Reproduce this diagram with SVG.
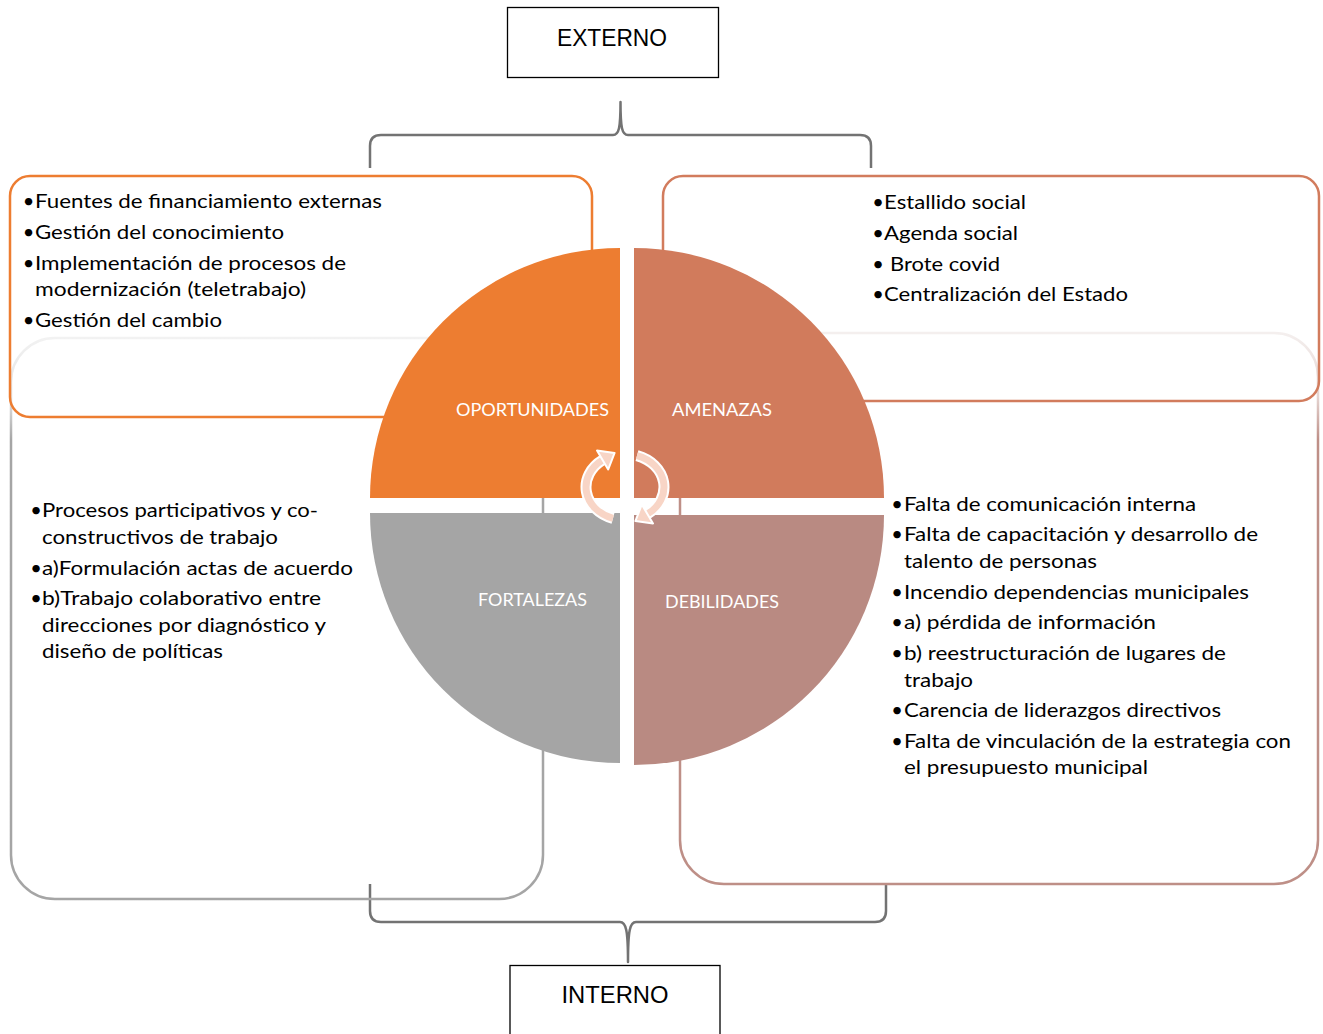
<svg xmlns="http://www.w3.org/2000/svg" width="1323" height="1034" viewBox="0 0 1323 1034">
  <style>
    .box { fill: none; stroke-width: 2.5; }
    .lbl { font-family: "Lato", "Liberation Sans", sans-serif; font-size: 17px; fill: #FFFFFF; text-anchor: middle; }
    .txt { font-family: "Lato", "Liberation Sans", sans-serif; font-size: 20px; fill: #000000; }
    .bul { font-family: "Lato", "Liberation Sans", sans-serif; font-size: 20px; fill: #000000; text-anchor: middle; }
    .ttl { font-family: "Liberation Sans", "Lato", sans-serif; font-size: 23px; fill: #000000; text-anchor: middle; }
    .frame { fill: #FFFFFF; stroke: #000000; stroke-width: 1.3; }
    .brace { fill: none; stroke: #737373; stroke-width: 2.5; stroke-linejoin: round; }
    .arc-under { fill: none; stroke: #FFFFFF; stroke-width: 11; }
    .arc { fill: none; stroke: #F8D5C6; stroke-width: 7; }
    .head { fill: #F8D5C6; stroke: #FFFFFF; stroke-width: 2; stroke-linejoin: round; }
  </style>
  <defs>
    <linearGradient id="gGray" gradientUnits="userSpaceOnUse" x1="0" y1="338" x2="0" y2="440">
      <stop offset="0" stop-color="#F2F2F2"/>
      <stop offset="0.6" stop-color="#E2E2E2"/>
      <stop offset="1" stop-color="#A5A5A5"/>
    </linearGradient>
    <linearGradient id="gBrown" gradientUnits="userSpaceOnUse" x1="0" y1="333" x2="0" y2="440">
      <stop offset="0" stop-color="#F4EFEE"/>
      <stop offset="0.6" stop-color="#E4D4D1"/>
      <stop offset="1" stop-color="#BE8F87"/>
    </linearGradient>
  </defs>
  <rect x="0" y="0" width="1323" height="1034" fill="#FFFFFF"/>

  <g id="connectors">
    <path class="brace" d="M 370 168 L 370 146 Q 370 135 381 135 L 613 135 C 619 135 620.5 128 620.5 102 C 620.5 128 622 135 628 135 L 860 135 Q 871 135 871 146 L 871 168"/>
    <path class="brace" d="M 370 884 L 370 911 Q 370 922 381 922 L 620 922 C 626 922 628 930 628 962 C 628 930 630 922 636 922 L 875 922 Q 886 922 886 911 L 886 884"/>
  </g>

  <g id="box-fortalezas">
    <rect class="box" x="11" y="338" width="532" height="561" rx="44" ry="44" stroke="url(#gGray)"/>
  </g>
  <g id="box-debilidades">
    <rect class="box" x="680" y="333" width="638" height="551" rx="44" ry="44" stroke="url(#gBrown)"/>
  </g>
  <g id="box-oportunidades">
    <rect class="box" x="10" y="176" width="582" height="241" rx="20" ry="20" stroke="#ED7D31"/>
  </g>
  <g id="box-amenazas">
    <rect class="box" x="663" y="176" width="656" height="225" rx="20" ry="20" stroke="#D27C5D"/>
  </g>

  <g id="q-oportunidades">
    <path d="M 620 498 L 370 498 A 250 250 0 0 1 620 248 Z" fill="#ED7D31"/>
    <text class="lbl" x="532.5" y="416" textLength="153" lengthAdjust="spacingAndGlyphs">OPORTUNIDADES</text>
  </g>
  <g id="q-amenazas">
    <path d="M 634 498 L 634 248 A 250 250 0 0 1 884 498 Z" fill="#D17B5C"/>
    <text class="lbl" x="722" y="416" textLength="100" lengthAdjust="spacingAndGlyphs">AMENAZAS</text>
  </g>
  <g id="q-fortalezas">
    <path d="M 620 513 L 620 763 A 250 250 0 0 1 370 513 Z" fill="#A5A5A5"/>
    <text class="lbl" x="532.5" y="606" textLength="109" lengthAdjust="spacingAndGlyphs">FORTALEZAS</text>
  </g>
  <g id="q-debilidades">
    <path d="M 634 515 L 884 515 A 250 250 0 0 1 634 765 Z" fill="#B98A82"/>
    <text class="lbl" x="722" y="608" textLength="114" lengthAdjust="spacingAndGlyphs">DEBILIDADES</text>
  </g>

  <g id="cycle-arrows">
    <path class="arc-under" d="M 613 518.4 A 39 33 0 0 1 602.6 460"/>
    <path class="arc" d="M 613 518.4 A 39 33 0 0 1 602.6 460"/>
    <polygon class="head" points="614.6,452.9 608.2,469.5 597,450.5"/>
    <path class="arc-under" d="M 637 455.6 A 39 33 0 0 1 647.4 514"/>
    <path class="arc" d="M 637 455.6 A 39 33 0 0 1 647.4 514"/>
    <polygon class="head" points="635.4,521.1 641.8,504.5 653,523.5"/>
  </g>

  <g id="text-oportunidades">
    <text class="bul" x="28.5" y="208">•</text>
    <text class="txt" x="35" y="208" textLength="347" lengthAdjust="spacingAndGlyphs">Fuentes de financiamiento externas</text>
    <text class="bul" x="28.5" y="239">•</text>
    <text class="txt" x="35" y="239" textLength="249" lengthAdjust="spacingAndGlyphs">Gestión del conocimiento</text>
    <text class="bul" x="28.5" y="270">•</text>
    <text class="txt" x="35" y="270" textLength="311" lengthAdjust="spacingAndGlyphs">Implementación de procesos de</text>
    <text class="txt" x="35" y="296" textLength="271" lengthAdjust="spacingAndGlyphs">modernización (teletrabajo)</text>
    <text class="bul" x="28.5" y="327">•</text>
    <text class="txt" x="35" y="327" textLength="187" lengthAdjust="spacingAndGlyphs">Gestión del cambio</text>
  </g>

  <g id="text-amenazas">
    <text class="bul" x="878" y="209">•</text>
    <text class="txt" x="884" y="209" textLength="142" lengthAdjust="spacingAndGlyphs">Estallido social</text>
    <text class="bul" x="878" y="240">•</text>
    <text class="txt" x="884" y="240" textLength="134" lengthAdjust="spacingAndGlyphs">Agenda social</text>
    <text class="bul" x="878" y="271">•</text>
    <text class="txt" x="890" y="271" textLength="110" lengthAdjust="spacingAndGlyphs">Brote covid</text>
    <text class="bul" x="878" y="301">•</text>
    <text class="txt" x="884" y="301" textLength="244" lengthAdjust="spacingAndGlyphs">Centralización del Estado</text>
  </g>

  <g id="text-fortalezas">
    <text class="bul" x="36" y="517">•</text>
    <text class="txt" x="42" y="517" textLength="276" lengthAdjust="spacingAndGlyphs">Procesos participativos y co-</text>
    <text class="txt" x="42" y="544" textLength="236" lengthAdjust="spacingAndGlyphs">constructivos de trabajo</text>
    <text class="bul" x="36" y="575">•</text>
    <text class="txt" x="42" y="575" textLength="311" lengthAdjust="spacingAndGlyphs">a)Formulación actas de acuerdo</text>
    <text class="bul" x="36" y="605">•</text>
    <text class="txt" x="42" y="605" textLength="279" lengthAdjust="spacingAndGlyphs">b)Trabajo colaborativo entre</text>
    <text class="txt" x="42" y="632" textLength="284" lengthAdjust="spacingAndGlyphs">direcciones por diagnóstico y</text>
    <text class="txt" x="42" y="658" textLength="181" lengthAdjust="spacingAndGlyphs">diseño de políticas</text>
  </g>

  <g id="text-debilidades">
    <text class="bul" x="897" y="511">•</text>
    <text class="txt" x="904" y="511" textLength="292" lengthAdjust="spacingAndGlyphs">Falta de comunicación interna</text>
    <text class="bul" x="897" y="541">•</text>
    <text class="txt" x="904" y="541" textLength="354" lengthAdjust="spacingAndGlyphs">Falta de capacitación y desarrollo de</text>
    <text class="txt" x="904" y="568" textLength="193" lengthAdjust="spacingAndGlyphs">talento de personas</text>
    <text class="bul" x="897" y="599">•</text>
    <text class="txt" x="904" y="599" textLength="345" lengthAdjust="spacingAndGlyphs">Incendio dependencias municipales</text>
    <text class="bul" x="897" y="629">•</text>
    <text class="txt" x="904" y="629" textLength="252" lengthAdjust="spacingAndGlyphs">a) pérdida de información</text>
    <text class="bul" x="897" y="660">•</text>
    <text class="txt" x="904" y="660" textLength="322" lengthAdjust="spacingAndGlyphs">b) reestructuración de lugares de</text>
    <text class="txt" x="904" y="687" textLength="69" lengthAdjust="spacingAndGlyphs">trabajo</text>
    <text class="bul" x="897" y="717">•</text>
    <text class="txt" x="904" y="717" textLength="317" lengthAdjust="spacingAndGlyphs">Carencia de liderazgos directivos</text>
    <text class="bul" x="897" y="748">•</text>
    <text class="txt" x="904" y="748" textLength="387" lengthAdjust="spacingAndGlyphs">Falta de vinculación de la estrategia con</text>
    <text class="txt" x="904" y="774" textLength="244" lengthAdjust="spacingAndGlyphs">el presupuesto municipal</text>
  </g>

  <g id="externo">
    <rect class="frame" x="507.5" y="7.5" width="211" height="70"/>
    <text class="ttl" x="612" y="46" textLength="110" lengthAdjust="spacingAndGlyphs">EXTERNO</text>
  </g>
  <g id="interno">
    <rect class="frame" x="510" y="965.5" width="210" height="80"/>
    <text class="ttl" x="615" y="1003" textLength="107" lengthAdjust="spacingAndGlyphs">INTERNO</text>
  </g>
</svg>
